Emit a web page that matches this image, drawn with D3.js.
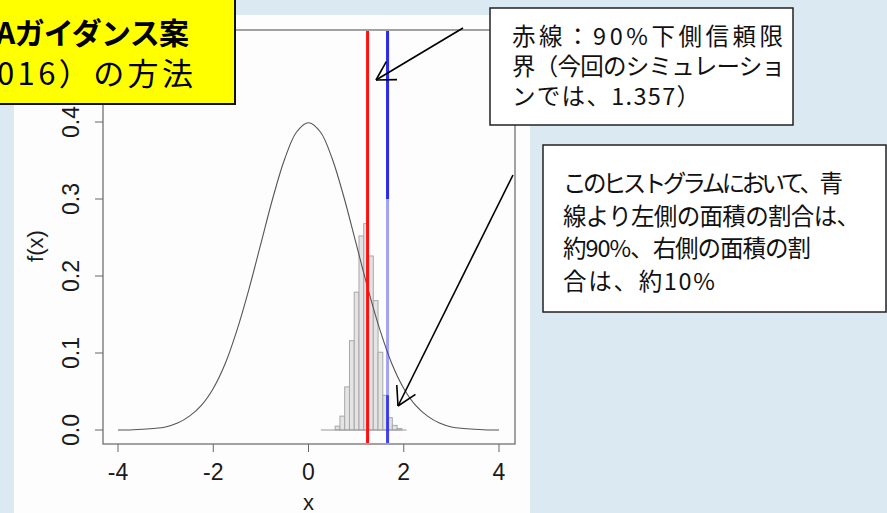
<!DOCTYPE html>
<html>
<head>
<meta charset="utf-8">
<script src="https://cdn.jsdelivr.net/npm/d3@7"></script>
<style>
    html, body { margin: 0; padding: 0; background: #dbeaf2; }
    svg { display: block; }
</style>
</head>
<body>
<div id="chart"></div>
<script>
// Density curve (x, f(x))
const curveX = [-4, -3.75, -3.5, -3.25, -3, -2.75, -2.5, -2.25, -2, -1.75, -1.5, -1.25, -1, -0.75, -0.5, -0.25,
    0, 0.25, 0.5, 0.75, 1, 1.25, 1.5, 1.75, 2, 2.25, 2.5, 2.75, 3, 3.25, 3.5, 3.75, 4];
const curveY = [0.000, 0.000, 0.001, 0.002, 0.004, 0.009, 0.018, 0.032, 0.054, 0.086, 0.130, 0.183, 0.242, 0.301, 0.352, 0.387,
    0.399, 0.387, 0.352, 0.301, 0.242, 0.183, 0.130, 0.086, 0.054, 0.032, 0.018, 0.009, 0.004, 0.002, 0.001, 0.000, 0.000];

// Histogram of the simulated lower limits
const histStart = 0.26;
const histWidth = 0.1;
const histDensity = [0, 0, 0, 0.005, 0.018, 0.056, 0.116, 0.179, 0.252, 0.268, 0.226, 0.168, 0.101, 0.045, 0.016, 0.006, 0.002, 0];

// Vertical reference lines
const redLineX = 1.24;
const blueLineX = 1.66;
const blueDarkAbove = 0.30;   // blue is solid above this height
const blueDarkBelow = 0.045;  // and solid again below this height

const xTicks = [-4, -2, 0, 2, 4];
const yTicks = [0, 0.1, 0.2, 0.3, 0.4];

const titleLines = ['Aガイダンス案', '016）の方法'];
const note1Lines = ['赤線：90%下側信頼限', '界（今回のシミュレーショ', 'ンでは、1.357）'];
const note2Lines = ['このヒストグラムにおいて、青', '線より左側の面積の割合は、', '約90%、右側の面積の割', '合は、約10%'];

// widths the lines take up in the slide (Meiryo is wider than Noto)
const note1Widths = [271, 273, 188];
const note2Widths = [280, 297, 248, 152];

const width = 887, height = 513;
const jpFont = '"Noto Sans CJK JP", sans-serif';
const axisFont = '"Liberation Sans", Arial, sans-serif';

// Plot frame (R style box)
const box = { left: 103, top: 30, right: 515, bottom: 444 };

function drawChart() {
    const svg = d3.select('#chart')
        .append('svg')
        .attr('width', width)
        .attr('height', height);

    // Slide background and white picture panel
    svg.append('rect').attr('width', width).attr('height', height).attr('fill', '#dbeaf2');
    svg.append('rect')
        .attr('x', 14).attr('y', 15)
        .attr('width', 516).attr('height', height - 15)
        .attr('fill', '#fdfdfd');

    const x = d3.scaleLinear().domain([-4, 4]).range([118, 499]);
    const y = d3.scaleLinear().domain([0, 0.4]).range([430, 122]);

    // Histogram bars
    const bins = histDensity.map((d, i) => ({
        x0: histStart + i * histWidth,
        x1: histStart + (i + 1) * histWidth,
        value: d
    }));

    svg.append('g')
        .selectAll('rect')
        .data(bins)
        .join('rect')
        .attr('x', d => x(d.x0))
        .attr('y', d => y(d.value))
        .attr('width', d => x(d.x1) - x(d.x0))
        .attr('height', d => y(0) - y(d.value))
        .attr('fill', '#e4e4e4')
        .attr('stroke', '#a8a8a8')
        .attr('stroke-width', 1);

    // Baseline under the histogram
    svg.append('line')
        .attr('x1', x(histStart))
        .attr('x2', x(histStart + histDensity.length * histWidth))
        .attr('y1', y(0)).attr('y2', y(0))
        .attr('stroke', '#999')
        .attr('stroke-width', 1.2);

    // Density curve
    const points = curveX.map((d, i) => [d, curveY[i]]);
    svg.append('path')
        .datum(points)
        .attr('fill', 'none')
        .attr('stroke', '#555')
        .attr('stroke-width', 1.1)
        .attr('d', d3.line()
            .x(d => x(d[0]))
            .y(d => y(d[1]))
            .curve(d3.curveCatmullRom));

    // Blue line: faint in the middle, solid at top and bottom
    svg.append('line')
        .attr('x1', x(blueLineX)).attr('x2', x(blueLineX))
        .attr('y1', box.top + 1).attr('y2', box.bottom - 1)
        .attr('stroke', '#3030ee')
        .attr('stroke-opacity', 0.45)
        .attr('stroke-width', 3);
    svg.append('line')
        .attr('x1', x(blueLineX)).attr('x2', x(blueLineX))
        .attr('y1', box.top + 1).attr('y2', y(blueDarkAbove))
        .attr('stroke', '#2a2ae8')
        .attr('stroke-width', 3);
    svg.append('line')
        .attr('x1', x(blueLineX)).attr('x2', x(blueLineX))
        .attr('y1', y(blueDarkBelow)).attr('y2', box.bottom - 1)
        .attr('stroke', '#2a2ae8')
        .attr('stroke-opacity', 0.8)
        .attr('stroke-width', 3);

    // Red line
    svg.append('line')
        .attr('x1', x(redLineX)).attr('x2', x(redLineX))
        .attr('y1', box.top + 1).attr('y2', box.bottom - 1)
        .attr('stroke', '#ff1010')
        .attr('stroke-width', 3);

    // Box
    svg.append('rect')
        .attr('x', box.left).attr('y', box.top)
        .attr('width', box.right - box.left)
        .attr('height', box.bottom - box.top)
        .attr('fill', 'none')
        .attr('stroke', '#666')
        .attr('stroke-width', 1.2);

    // X axis
    const xAxis = svg.append('g');
    xAxis.selectAll('line')
        .data(xTicks)
        .join('line')
        .attr('x1', d => x(d)).attr('x2', d => x(d))
        .attr('y1', box.bottom).attr('y2', box.bottom + 8)
        .attr('stroke', '#666');
    xAxis.selectAll('text')
        .data(xTicks)
        .join('text')
        .attr('x', d => x(d))
        .attr('y', 472)
        .attr('text-anchor', 'middle')
        .attr('dominant-baseline', 'central')
        .style('font', `23px ${axisFont}`)
        .attr('fill', '#1a1a1a')
        .text(d => d);
    svg.append('text')
        .attr('x', x(0))
        .attr('y', 502)
        .attr('text-anchor', 'middle')
        .attr('dominant-baseline', 'central')
        .style('font', `22px ${axisFont}`)
        .attr('fill', '#1a1a1a')
        .text('x');

    // Y axis
    const yAxis = svg.append('g');
    yAxis.selectAll('line')
        .data(yTicks)
        .join('line')
        .attr('x1', box.left - 8).attr('x2', box.left)
        .attr('y1', d => y(d)).attr('y2', d => y(d))
        .attr('stroke', '#666');
    yAxis.selectAll('text')
        .data(yTicks)
        .join('text')
        .attr('transform', d => `translate(71,${y(d)}) rotate(-90)`)
        .attr('text-anchor', 'middle')
        .attr('dominant-baseline', 'central')
        .style('font', `23px ${axisFont}`)
        .attr('fill', '#1a1a1a')
        .text(d => d3.format('.1f')(d));
    svg.append('text')
        .attr('transform', `translate(35,${y(0.2) - 30}) rotate(-90)`)
        .attr('text-anchor', 'middle')
        .attr('dominant-baseline', 'central')
        .style('font', `22px ${axisFont}`)
        .attr('fill', '#1a1a1a')
        .text('f(x)');

    // Arrows
    drawArrow(svg, [463, 28], [376, 80]);
    drawArrow(svg, [513, 175], [398, 406]);

    // Yellow title box (cut off at the left edge)
    svg.append('rect')
        .attr('x', -3).attr('y', -3)
        .attr('width', 238).attr('height', 107)
        .attr('fill', '#ffff00')
        .attr('stroke', '#111')
        .attr('stroke-width', 2);
    svg.append('text')
        .attr('x', -4).attr('y', 44)
        .attr('textLength', 193)
        .attr('lengthAdjust', 'spacing')
        .style('font', `bold 30px ${jpFont}`)
        .attr('fill', '#000')
        .text(titleLines[0]);
    svg.append('text')
        .attr('x', -3).attr('y', 85)
        .attr('textLength', 196)
        .attr('lengthAdjust', 'spacing')
        .style('font', `31px ${jpFont}`)
        .attr('fill', '#000')
        .text(titleLines[1]);

    // Note boxes
    drawNote(svg, 490, 8, 303, 117, note1Lines, note1Widths, 512, 45, 30);
    drawNote(svg, 543, 145, 343, 167, note2Lines, note2Widths, 563, 192, 32.5);
}

// Straight arrow with an open head
function drawArrow(svg, from, to) {
    const angle = Math.atan2(from[1] - to[1], from[0] - to[0]);
    const len = 21, spread = 0.52;
    const g = svg.append('g')
        .attr('stroke', '#000')
        .attr('stroke-width', 1.6)
        .attr('fill', 'none');
    g.append('line')
        .attr('x1', from[0]).attr('y1', from[1])
        .attr('x2', to[0]).attr('y2', to[1]);
    [-spread, spread].forEach(s => {
        g.append('line')
            .attr('x1', to[0]).attr('y1', to[1])
            .attr('x2', to[0] + len * Math.cos(angle + s))
            .attr('y2', to[1] + len * Math.sin(angle + s));
    });
}

function drawNote(svg, bx, by, bw, bh, lines, widths, tx, ty, lineGap) {
    svg.append('rect')
        .attr('x', bx).attr('y', by)
        .attr('width', bw).attr('height', bh)
        .attr('fill', '#fff')
        .attr('stroke', '#222')
        .attr('stroke-width', 1.5);
    svg.append('g')
        .selectAll('text')
        .data(lines)
        .join('text')
        .attr('x', tx)
        .attr('y', (d, i) => ty + i * lineGap)
        .attr('textLength', (d, i) => widths[i])
        .attr('lengthAdjust', 'spacing')
        .style('font', `23.5px ${jpFont}`)
        .attr('fill', '#111')
        .text(d => d);
}

drawChart();
</script>
</body>
</html>
